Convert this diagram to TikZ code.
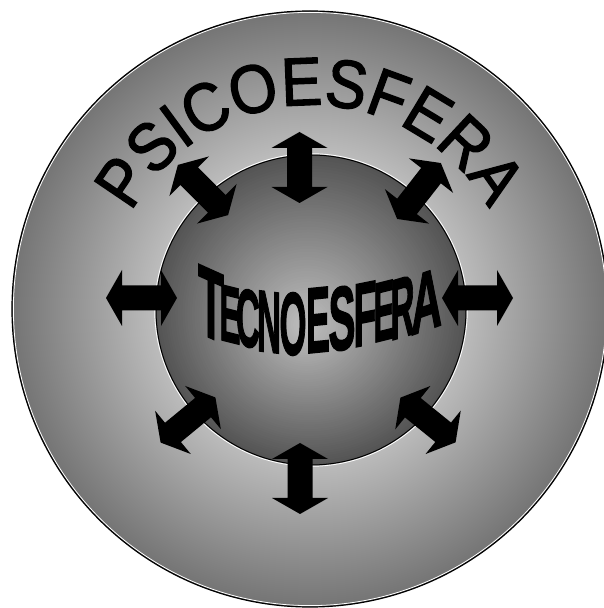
\documentclass[tikz,border=0pt]{standalone}
\usepackage{fontspec}
\usepackage{graphicx}
\usepackage{tikz}
\usetikzlibrary{calc,decorations.text}
\newfontfamily\psicofont[FakeStretch=0.9, FakeBold=2]{Liberation Sans}
\newfontfamily\tecfont[FakeBold=2]{Liberation Sans Bold}

\tikzset{
    dblarrow/.pic={
        \fill[black] (-35.5,0) -- (-19.5,28) -- (-19.5,12.5) -- (19.5,12.5) -- (19.5,28)
            -- (35.5,0) -- (19.5,-28) -- (19.5,-12.5) -- (-19.5,-12.5) -- (-19.5,-28) -- cycle;
    }
}

\begin{document}
\begin{tikzpicture}[x=1pt, y=1pt]
    \useasboundingbox (0,0) rectangle (603,608);
    \fill[white] (0,0) rectangle (603,608);

    % Psicoesfera: dark rim, light towards the middle
    \foreach \k [evaluate=\k as \pct using 54-28*\k/72] in {0,...,72}
        \fill[black!\pct] (310,299) circle[radius=298-2*\k];
    \draw[white, line width=0.8] (310,299) circle[radius=296.6];
    \draw[black, line width=1.2] (310,299) circle[radius=298];

    % Tecnoesfera: light spot a bit below the middle
    \foreach \k [evaluate=\k as \pct using 67-42*\k/62] in {0,...,61}
        \fill[black!\pct] ($(311,298)!\k/62!(305,282)$) circle[radius=155-2.5*\k];
    \draw[white, line width=0.8] (311,298) circle[radius=156.3];
    \draw[black, line width=1] (311,298) circle[radius=155];

    % Arrows
    \foreach \px/\py/\ang in {299.5/440.5/90, 300/129.5/90, 141.5/310/0, 477.5/310/0,
                              203/418/135, 419/417/52, 188/188/39.5, 428/188/-39}
        \path (\px,\py) pic[rotate=\ang] {dblarrow};

    % Labels
    \path[decorate, decoration={text along path, text align=center,
          text={|\psicofont\fontsize{68}{72}\selectfont|PSICOESFERA}}]
        (311,299) ++(170.5:204) arc[start angle=170.5, end angle=10.5, radius=204];

    \foreach \i/\ch/\x/\y/\w/\h/\s in {1/T/211/304/26/68/-0.45, 2/E/230/293.5/21/55/-0.25,
                                      3/C/248/289.5/24/57/-0.2, 4/N/269/286/24/60/-0.12,
                                      5/O/293/284/27/62/0, 6/E/318/288/24/64/0.1,
                                      7/S/342/289.5/27/63/0.15, 8/F/365/294/23/62/0.2,
                                      9/E/384/297/21/58/0.25, 10/R/402.5/300.5/24/59/0.3,
                                      11/A/426.5/307/31/58/0.35}{
        \begin{scope}[shift={(\x,\y)}]
            \node[inner sep=0, yslant=\s, transform shape] (tec\i) at (0,0)
                {\resizebox{\w pt}{\h pt}{\tecfont \ch}};
        \end{scope}
    }
\end{tikzpicture}
\end{document}
